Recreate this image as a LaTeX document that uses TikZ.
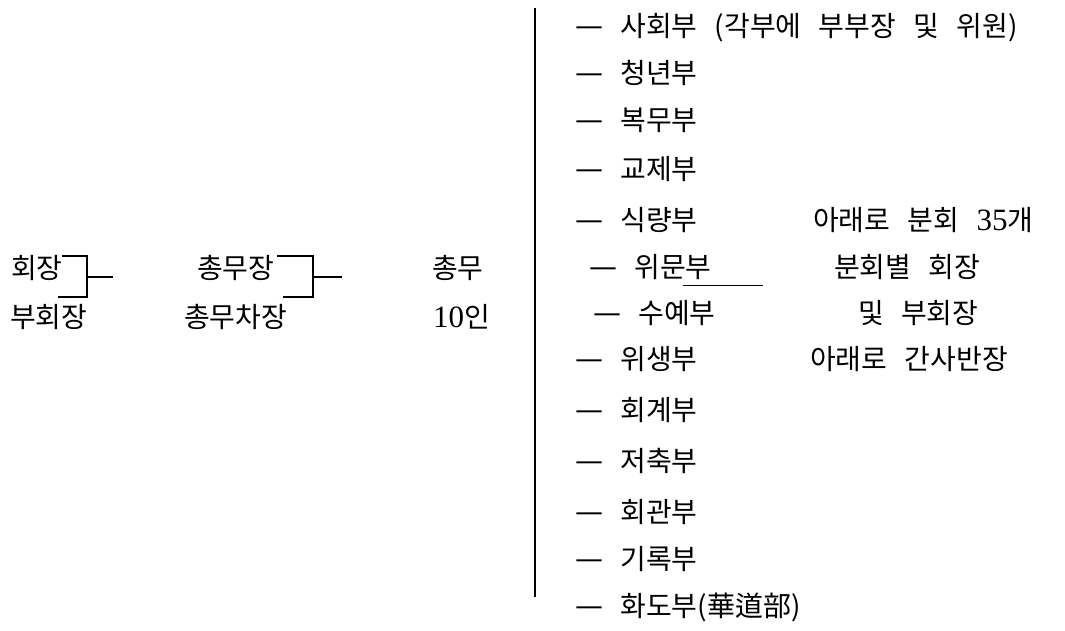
\documentclass[tikz,border=0pt]{standalone}
\usepackage{fontspec}
\newfontfamily\kr[WordSpace=2.75]{Noto Sans CJK KR}
\newfontfamily\djv{DejaVu Sans}
\newfontfamily\lser{Liberation Serif}
\newcommand{\serifnum}[1]{{\lser\fontsize{31}{33}\selectfont #1}}
\newcommand{\dsh}{{\djv\raisebox{1.5pt}{—}}}
\begin{document}
\begin{tikzpicture}[x=1pt,y=-1pt,
  lbl/.style={anchor=west, inner sep=0pt, font=\kr\fontsize{28}{33}\selectfont, text height=23pt, text depth=2pt},
  ln/.style={line width=1.3pt, black}]
\useasboundingbox (0,0) rectangle (1065,630);
% left column
\node[lbl] (hj) at (11,268) {회장};
\node[lbl] (bhj) at (10,317) {부회장};
\node[lbl] (cmj) at (197,268) {총무장};
\node[lbl] (cmcj) at (184,317) {총무차장};
\node[lbl] (cm) at (432,268) {총무};
\node[lbl] (cm10) at (433,317) {\serifnum{10}인};
% brackets
\coordinate (b1t) at (62,256);
\coordinate (b1b) at (58,297);
\coordinate (b1o) at (113,277);
\draw[ln] (b1t) -- (87,256) -- (87,297) -- (b1b);
\draw[ln] (87,277) -- (b1o);
\coordinate (b2t) at (277,256);
\coordinate (b2b) at (283,297);
\coordinate (b2o) at (342,277);
\draw[ln] (b2t) -- (313,256) -- (313,297) -- (b2b);
\draw[ln] (313,277) -- (b2o);
% vertical line
\coordinate (vt) at (535,8);
\coordinate (vb) at (535,597);
\draw[ln] (vt) -- (vb);
% right list
\node[lbl] (r1) at (575,26) {\dsh{} 사회부 (각부에 부부장 및 위원)};
\node[lbl] (r2) at (575,73) {\dsh{} 청년부};
\node[lbl] (r3) at (575,120) {\dsh{} 복무부};
\node[lbl] (r4) at (575,169) {\dsh{} 교제부};
\node[lbl] (r5) at (575,220) {\dsh{} 식량부};
\node[lbl] (r6) at (589,267) {\dsh{} 위문부};
\node[lbl] (r7) at (593,313) {\dsh{} 수예부};
\node[lbl] (r8) at (575,359) {\dsh{} 위생부};
\node[lbl] (r9) at (575,410) {\dsh{} 회계부};
\node[lbl] (r10) at (575,461) {\dsh{} 저축부};
\node[lbl] (r11) at (575,512) {\dsh{} 회관부};
\node[lbl] (r12) at (575,559) {\dsh{} 기록부};
\node[lbl] (r13) at (575,606) {\dsh{} 화도부(華道部)};
% notes
\node[lbl] (n1) at (813,220) {아래로 분회 \serifnum{35}개};
\node[lbl] (n2) at (834,267) {분회별 회장};
\node[lbl] (n3) at (858,313) {및 부회장};
\node[lbl] (n4) at (810,359) {아래로 간사반장};
% underline
\coordinate (u1) at (683,285);
\coordinate (u2) at (763,285);
\draw[line width=1pt] (u1) -- (u2);
\end{tikzpicture}
\end{document}
